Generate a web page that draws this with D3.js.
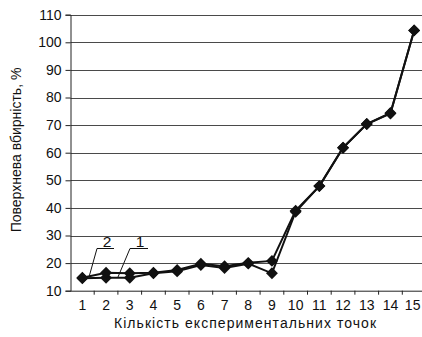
<!DOCTYPE html>
<html><head><meta charset="utf-8">
<script src="https://cdn.jsdelivr.net/npm/d3@7"></script>
<style>body{margin:0;background:#fff}svg{display:block}text{font-family:"Liberation Sans",Arial,sans-serif;fill:#111}</style>
</head><body>
<svg id="c" width="422" height="337"></svg>
<script>
const categories = [1,2,3,4,5,6,7,8,9,10,11,12,13,14,15];
const series1 = [14.5,14.7,14.7,16.3,17.0,19.3,18.2,19.8,16.3,38.6,47.9,61.8,70.4,74.2,104.3];
const series2 = [14.7,16.5,16.3,16.5,17.5,19.8,18.9,20.1,20.8,39.0,47.9,61.8,70.4,74.4,104.3];
const yTicks = [10,20,30,40,50,60,70,80,90,100,110];
const seriesLabels = ["1","2"];
const xTitle = "Кількість експериментальних точок";
const yTitle = "Поверхнева вбирність, %";

const svg = d3.select("#c");
const pL = 70.5, pR = 426, pT = 14.7, pB = 290.7;
const x = d3.scaleBand().domain(categories).range([pL, pR]);
const y = d3.scaleLinear().domain([10,110]).range([pB, pT]);

// gridlines
svg.append("g").selectAll("line").data(yTicks.slice(1)).join("line")
  .attr("x1", pL).attr("x2", 422).attr("y1", d => Math.round(y(d))+0.5).attr("y2", d => Math.round(y(d))+0.5)
  .attr("stroke", "#4a4a4a").attr("stroke-width", 1);

// y axis
const ya = svg.append("g").attr("transform", `translate(${pL},0)`)
  .call(d3.axisLeft(y).tickValues(yTicks).tickSize(5).tickPadding(4));
ya.select(".domain").attr("stroke", "#222");
ya.selectAll(".tick line").attr("stroke", "#222");
ya.selectAll("text").attr("font-size", 14).style("font-family", "Liberation Sans, Arial, sans-serif").attr("fill", "#111");

// x axis
const xa = svg.append("g").attr("transform", `translate(0,${pB})`)
  .call(d3.axisBottom(x).tickSize(0).tickPadding(9));
xa.select(".domain").attr("stroke", "#222").attr("d", `M${pL},0.5H422`);
xa.selectAll("text").attr("font-size", 14).style("font-family", "Liberation Sans, Arial, sans-serif").attr("fill", "#111");
xa.selectAll(".tick").filter(d => d === 15).select("text").attr("dx", -1.5);
svg.append("g").selectAll("line").data(categories).join("line")
  .attr("x1", d => x(d)+x.bandwidth()).attr("x2", d => x(d)+x.bandwidth())
  .attr("y1", pB).attr("y2", pB+4).attr("stroke", "#222");

const line = d3.line().x((d,i) => x(categories[i]) + x.bandwidth()/2).y(d => y(d));
[series1, series2].forEach(s => {
  svg.append("path").datum(s).attr("d", line).attr("fill", "none")
    .attr("stroke", "#111").attr("stroke-width", 2);
});
const sym = d3.symbol().type(d3.symbolDiamond2).size(90);
[series1, series2].forEach(s => {
  svg.append("g").selectAll("path").data(s).join("path")
    .attr("transform", (d,i) => `translate(${x(categories[i]) + x.bandwidth()/2},${y(d)})`)
    .attr("d", sym).attr("fill", "#111");
});

// series labels with leaders
const lab = [
  {t: seriesLabels[0], tx: 140, ty: 247, hx1: 130, hx2: 148, ex: 118, ey: 277},
  {t: seriesLabels[1], tx: 107, ty: 247, hx1: 97, hx2: 114, ex: 89, ey: 277}
];
lab.forEach(l => {
  svg.append("text").attr("x", l.tx).attr("y", l.ty).attr("text-anchor", "middle").attr("font-size", 15.5).text(l.t);
  svg.append("path").attr("d", `M${l.hx2},248.5H${l.hx1}L${l.ex},${l.ey}`).attr("fill", "none").attr("stroke", "#111").attr("stroke-width", 1);
});

svg.append("text").attr("x", 245).attr("y", 328).attr("text-anchor", "middle").attr("font-size", 14)
  .attr("textLength", 262).attr("lengthAdjust", "spacing").text(xTitle);
svg.append("text").attr("transform", "translate(21,150) rotate(-90)").attr("text-anchor", "middle").attr("font-size", 14).text(yTitle);
</script>
</body></html>
